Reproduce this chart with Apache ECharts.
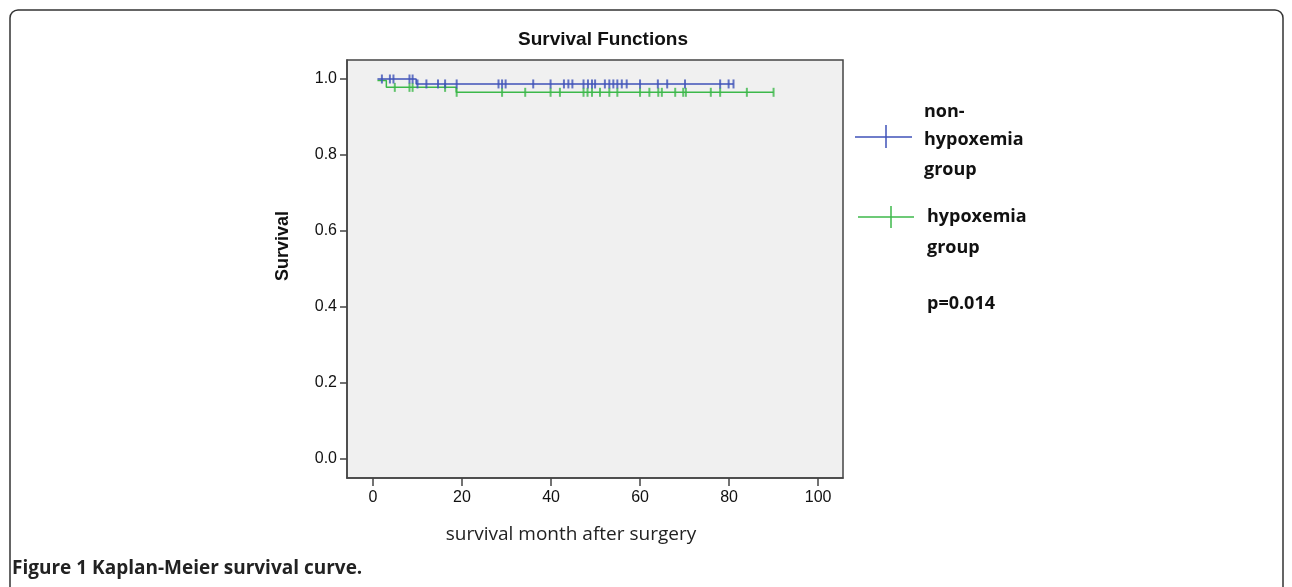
<!DOCTYPE html>
<html><head><meta charset="utf-8">
<script src="https://cdn.jsdelivr.net/npm/echarts@6/dist/echarts.min.js"></script>
<style>html,body{margin:0;padding:0;background:#fff}#c{width:1292px;height:587px}</style>
</head><body><div id="c"></div>
<script>
// ---- data ----
const xTicks = [0, 20, 40, 60, 80, 100];
const yTicks = [0, 0.2, 0.4, 0.6, 0.8, 1.0];
// Kaplan-Meier step points (time, survival)
const nonHypoxTimes = [1, 9.7, 81];
const nonHypoxSurv = [1.0, 0.987, 0.987];
const hypoxTimes = [1, 3.0, 18.7, 90];
const hypoxSurv = [0.996, 0.978, 0.965, 0.965];
// censored observations (months)
const nonHypoxCensor = [2.0, 3.8, 4.6, 8.2, 8.9, 10.0, 12.0, 14.6, 16.2, 18.8, 28.2, 29.0, 29.8, 36.0, 39.9, 42.9, 43.9, 44.8, 47.3, 48.3, 49.2, 49.9, 52.1, 53.1, 54.0, 54.9, 55.9, 57.0, 60.0, 64.0, 66.1, 70.1, 78.0, 79.9, 81.0];
const hypoxCensor = [4.9, 8.2, 8.9, 16.2, 18.8, 29.0, 34.2, 39.9, 42.0, 47.3, 48.2, 49.2, 51.0, 53.1, 54.9, 60.0, 62.1, 64.1, 64.9, 67.9, 69.7, 70.3, 75.9, 78.0, 84.0, 90.0];

const BLUE = '#3f52b8', GREEN = '#3cb84a';
function steps(ts, ss) { return ts.map((t, i) => [t, ss[i]]); }
function survAt(ts, ss, t) { let s = ss[0]; for (let i = 0; i < ts.length; i++) { if (ts[i] <= t) s = ss[i]; } return s; }
function censor(cs, ts, ss) { return cs.map(t => [t, survAt(ts, ss, t)]); }

const chart = echarts.init(document.getElementById('c'), null, { renderer: 'canvas' });
const tickFont = { fontFamily: 'Liberation Sans, Arial', fontSize: 16, color: '#111' };
const legFont = 'bold 18px "Open Sans", sans-serif';
chart.setOption({
  animation: false,
  backgroundColor: '#fff',
  title: { text: 'Survival Functions', left: 598, top: 25, textAlign: 'center',
    textStyle: { fontFamily: 'Liberation Sans, Arial', fontWeight: 'bold', fontSize: 19, color: '#111' } },
  grid: { left: 347, top: 60, width: 496, height: 418, show: true, backgroundColor: '#f0f0f0', borderColor: '#444', borderWidth: 1.5 },
  xAxis: { type: 'value', min: -5.84, max: 105.6, splitLine: { show: false },
    axisLine: { show: true, onZero: false, lineStyle: { color: '#444', width: 1.5 } },
    axisTick: { show: true, length: 8, lineStyle: { color: '#444', width: 1.5 }, customValues: xTicks },
    axisLabel: Object.assign({ margin: 12, customValues: xTicks, formatter: v => String(Math.round(v)) }, tickFont) },
  yAxis: { type: 'value', min: -0.05, max: 1.05, splitLine: { show: false },
    axisLine: { show: true, onZero: false, lineStyle: { color: '#444', width: 1.5 } },
    axisTick: { show: true, length: 7, lineStyle: { color: '#444', width: 1.5 }, customValues: yTicks },
    axisLabel: Object.assign({ margin: 10, customValues: yTicks, formatter: v => v.toFixed(1) }, tickFont) },
  series: [
    { type: 'line', step: 'end', data: steps(hypoxTimes, hypoxSurv), showSymbol: false, lineStyle: { color: GREEN, width: 1.5 }, z: 2 },
    { type: 'scatter', data: censor(hypoxCensor, hypoxTimes, hypoxSurv), symbol: 'rect', symbolSize: [2, 9], itemStyle: { color: GREEN }, z: 2 },
    { type: 'line', step: 'end', data: steps(nonHypoxTimes, nonHypoxSurv), showSymbol: false, lineStyle: { color: BLUE, width: 1.5 }, z: 3 },
    { type: 'scatter', data: censor(nonHypoxCensor, nonHypoxTimes, nonHypoxSurv), symbol: 'rect', symbolSize: [2, 9], itemStyle: { color: BLUE }, z: 3 }
  ],
  graphic: [
    { type: 'rect', shape: { x: 10, y: 10, width: 1273, height: 600, r: 8 }, style: { fill: null, stroke: '#333', lineWidth: 1.5 }, z: -10 },
    { type: 'text', x: 283, y: 246, rotation: Math.PI / 2, style: { text: 'Survival', font: 'bold 18px "Liberation Sans", Arial', fill: '#111', align: 'center', verticalAlign: 'middle' } },
    { type: 'text', x: 571, y: 535, style: { text: 'survival month after surgery', font: '19px "Open Sans", sans-serif', fill: '#222', align: 'center', verticalAlign: 'middle' } },
    // legend
    { type: 'line', shape: { x1: 855, y1: 137, x2: 912, y2: 137 }, style: { stroke: BLUE, lineWidth: 1.5 } },
    { type: 'line', shape: { x1: 886, y1: 125, x2: 886, y2: 148 }, style: { stroke: BLUE, lineWidth: 1.5 } },
    { type: 'text', x: 924, y: 112, style: { text: 'non-', font: legFont, fill: '#111', verticalAlign: 'middle' } },
    { type: 'text', x: 924, y: 140, style: { text: 'hypoxemia', font: legFont, fill: '#111', verticalAlign: 'middle' } },
    { type: 'text', x: 924, y: 170, style: { text: 'group', font: legFont, fill: '#111', verticalAlign: 'middle' } },
    { type: 'line', shape: { x1: 858, y1: 217, x2: 914, y2: 217 }, style: { stroke: GREEN, lineWidth: 1.5 } },
    { type: 'line', shape: { x1: 891, y1: 206, x2: 891, y2: 228 }, style: { stroke: GREEN, lineWidth: 1.5 } },
    { type: 'text', x: 927, y: 217, style: { text: 'hypoxemia', font: legFont, fill: '#111', verticalAlign: 'middle' } },
    { type: 'text', x: 927, y: 248, style: { text: 'group', font: legFont, fill: '#111', verticalAlign: 'middle' } },
    { type: 'text', x: 927, y: 304, style: { text: 'p=0.014', font: legFont, fill: '#111', verticalAlign: 'middle' } },
    // caption
    { type: 'text', x: 12, y: 569, style: { text: 'Figure 1 Kaplan-Meier survival curve.', font: 'bold 19px "Open Sans", sans-serif', fill: '#222', verticalAlign: 'middle' } }
  ]
});
</script></body></html>
